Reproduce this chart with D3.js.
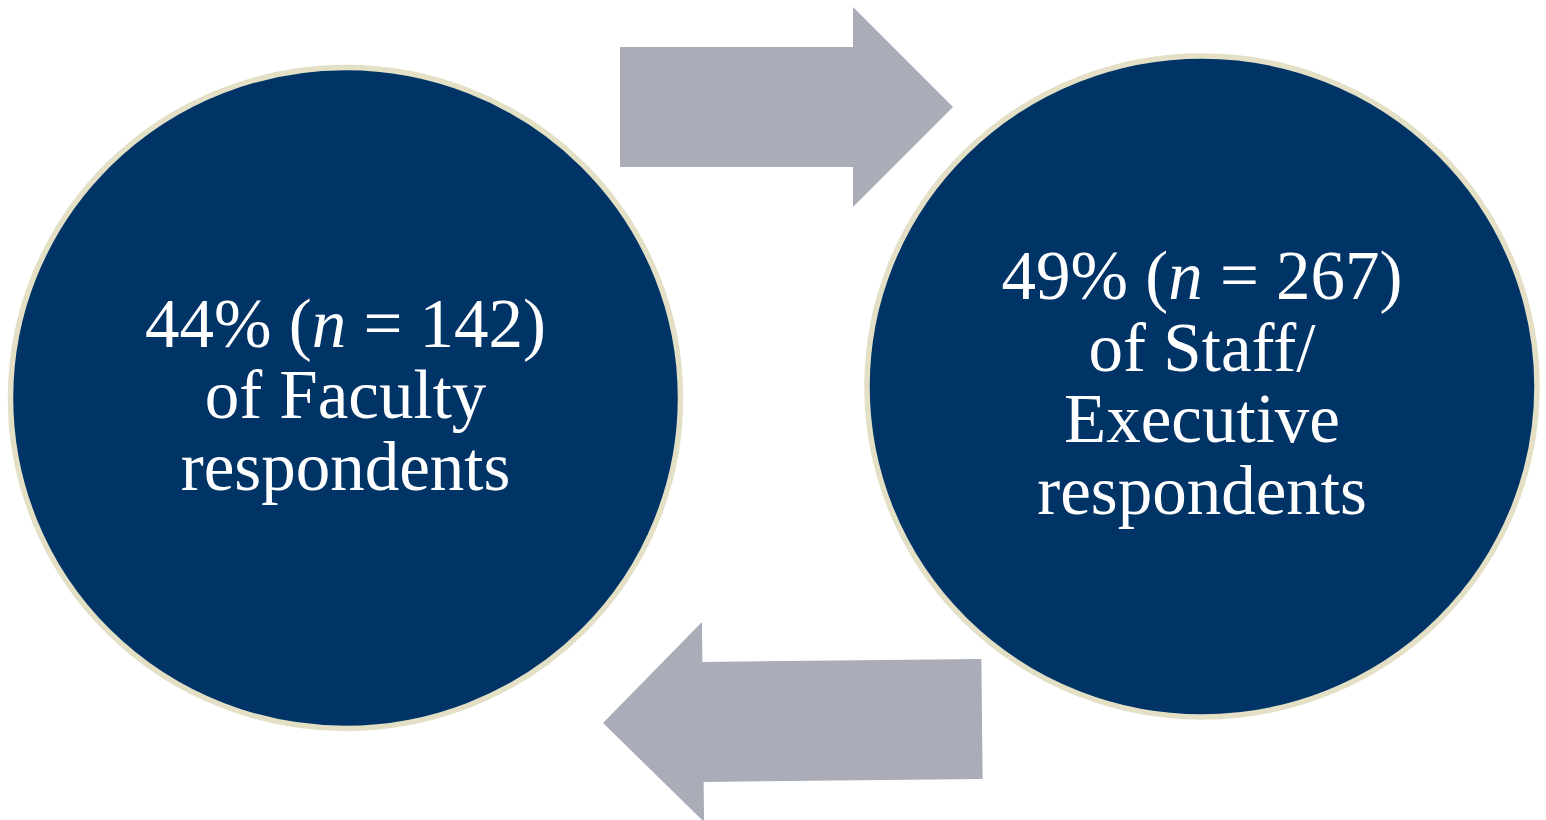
<!DOCTYPE html>
<html>
<head>
<meta charset="utf-8">
<script src="https://cdn.jsdelivr.net/npm/d3@7"></script>
<style>
  body { margin: 0; background: #fff; }
  svg { display: block; }
</style>
</head>
<body>
<svg width="1546" height="820"></svg>
<script>
// respondent groups and their shares
var groups = ["Faculty", "Staff/Executive"];
var shares = [44, 49];
var counts = [142, 267];
var captionLines = [
    ["of Faculty", "respondents"],
    ["of Staff/", "Executive", "respondents"]
];

var svg = d3.select("svg");

var navy = "#003366",
    rim = "#e3e0c6",
    grey = "#aaacb7";

// ellipse placement for each group
var cx = d3.scaleOrdinal().domain(groups).range([345.5, 1202]);
var cy = d3.scaleOrdinal().domain(groups).range([398, 386.5]);
var rx = 335, ry = 330.5;

var nodes = groups.map(function(g, i) {
    return { group: g, share: shares[i], n: counts[i], lines: captionLines[i] };
});

svg.selectAll("ellipse.node")
    .data(nodes)
    .enter().append("ellipse")
        .attr("class", "node")
        .attr("cx", function(d) { return cx(d.group); })
        .attr("cy", function(d) { return cy(d.group); })
        .attr("rx", rx)
        .attr("ry", ry)
        .attr("fill", navy)
        .attr("stroke", rim)
        .attr("stroke-width", 5.5);

// block arrow pointing right, centred on the origin
function arrowPath(len) {
    var shaft = 60, head = 100, headLen = 100;
    var x0 = -len / 2, x1 = len / 2, xh = x1 - headLen;
    return d3.line()([
        [x0, -shaft], [xh, -shaft], [xh, -head], [x1, 0],
        [xh, head], [xh, shaft], [x0, shaft]
    ]) + "Z";
}

var arrows = [
    { len: 333, x: 786.5, y: 107, rot: 0, flip: false },
    { len: 379, x: 792.5, y: 721, rot: -0.6, flip: true }
];

svg.selectAll("path.arrow")
    .data(arrows)
    .enter().append("path")
        .attr("class", "arrow")
        .attr("d", function(d) { return arrowPath(d.len); })
        .attr("fill", grey)
        .attr("transform", function(d) {
            return "translate(" + d.x + "," + d.y + ") rotate(" + d.rot + ")" +
                (d.flip ? " scale(-1,1)" : "");
        });

var fontSize = 69, lineH = 71.5;

var label = svg.selectAll("text.label")
    .data(nodes)
    .enter().append("text")
        .attr("class", "label")
        .attr("text-anchor", "middle")
        .attr("fill", "#fff")
        .style("font-family", "'Liberation Serif', 'Times New Roman', serif")
        .style("font-size", fontSize + "px")
        .attr("x", function(d) { return cx(d.group); })
        .attr("y", function(d) {
            var total = d.lines.length + 1;
            return cy(d.group) + 20 - (total - 1) * lineH / 2;
        });

label.each(function(d) {
    var t = d3.select(this);
    var x = cx(d.group);
    var first = t.append("tspan").attr("x", x).attr("dy", 0);
    first.append("tspan").text(d.share + "% (");
    first.append("tspan").style("font-style", "italic").text("n");
    first.append("tspan").text(" = " + d.n + ")");
    d.lines.forEach(function(line) {
        t.append("tspan").attr("x", x).attr("dy", lineH).text(line);
    });
});
</script>
</body>
</html>
